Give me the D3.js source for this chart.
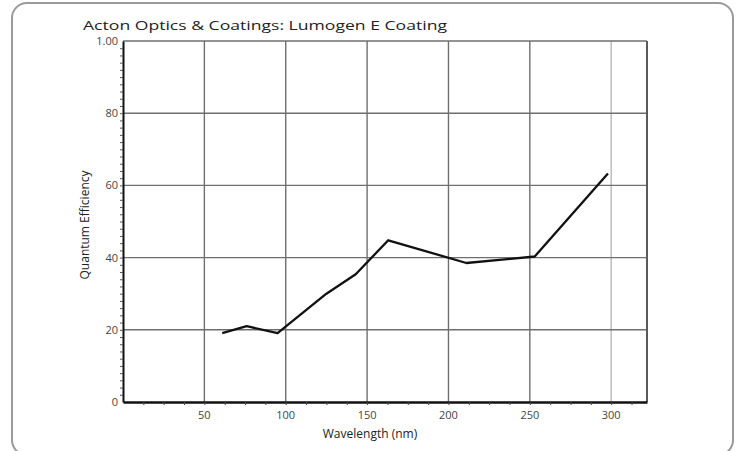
<!DOCTYPE html>
<html>
<head>
<meta charset="utf-8">
<script src="https://cdn.jsdelivr.net/npm/d3@7"></script>
<style>
  body { margin: 0; background: #fff; }
  svg { display: block; font-family: "Open Sans", "Noto Sans", sans-serif; }
</style>
</head>
<body>
<svg id="chart"></svg>
<script>
var width = 737,
    height = 451;

// wavelength (nm) and quantum efficiency
var wavelength = [61, 76, 95, 125, 143, 163, 211, 253, 298];
var efficiency = [19.1, 21.0, 19.1, 30.0, 35.4, 44.8, 38.5, 40.3, 63.3];

var xTicks = [50, 100, 150, 200, 250, 300];
var yTicks = [0, 20, 40, 60, 80, 100];
var yTickLabels = ['0', '20', '40', '60', '80', '1.00'];

var MARGIN = {
    LEFT: 123,
    RIGHT: 90,
    TOP: 41,
    BOTTOM: 49
};

var plotW = width - MARGIN.LEFT - MARGIN.RIGHT,
    plotH = height - MARGIN.TOP - MARGIN.BOTTOM;

var xScale = d3.scaleLinear()
    .domain([0, 322])
    .range([0, plotW]);

var yScale = d3.scaleLinear()
    .domain([0, 100])
    .range([plotH, 0]);

var svg = d3.select('#chart')
    .attr('width', width)
    .attr('height', height);

// rounded frame around the whole figure
svg.append('rect')
    .attr('x', 12)
    .attr('y', 3)
    .attr('width', 721)
    .attr('height', 452)
    .attr('rx', 15)
    .attr('fill', 'none')
    .attr('stroke', '#9a9a9a')
    .attr('stroke-width', 2);

svg.append('text')
    .attr('x', 83)
    .attr('y', 30)
    .attr('fill', '#222')
    .style('font-size', '13px')
    .attr('textLength', 364)
    .attr('lengthAdjust', 'spacingAndGlyphs')
    .text('Acton Optics & Coatings: Lumogen E Coating');

var inner = svg.append('g')
    .attr('transform', 'translate(' + MARGIN.LEFT + ',' + MARGIN.TOP + ')');

// grid
inner.append('g').selectAll('line.vgrid')
    .data(xTicks)
    .enter().append('line')
    .attr('x1', function (d) { return xScale(d); })
    .attr('x2', function (d) { return xScale(d); })
    .attr('y1', 0)
    .attr('y2', plotH)
    .attr('stroke', function (d) { return d === 300 ? '#b8b8b8' : '#6f6f6f'; })
    .attr('stroke-width', 1.4);

inner.append('g').selectAll('line.hgrid')
    .data(yTicks.filter(function (d) { return d > 0; }))
    .enter().append('line')
    .attr('x1', 0)
    .attr('x2', plotW)
    .attr('y1', function (d) { return yScale(d); })
    .attr('y2', function (d) { return yScale(d); })
    .attr('stroke', '#6f6f6f')
    .attr('stroke-width', 1.4);

// right border
inner.append('line')
    .attr('x1', plotW).attr('x2', plotW)
    .attr('y1', 0).attr('y2', plotH)
    .attr('stroke', '#5a5a5a')
    .attr('stroke-width', 2);

// minor ticks
var xMinor = d3.range(12.5, 322, 12.5);
var yMinor = d3.range(2, 100, 2);

var xAxis = d3.axisBottom(xScale)
    .tickValues(xMinor)
    .tickFormat('')
    .tickSize(3)
    .tickSizeOuter(0);

var yAxis = d3.axisLeft(yScale)
    .tickValues(yMinor)
    .tickFormat('')
    .tickSize(3)
    .tickSizeOuter(0);

var gx = inner.append('g')
    .attr('transform', 'translate(0,' + plotH + ')')
    .call(xAxis);
gx.select('.domain').attr('stroke', '#111').attr('stroke-width', 2.5);
gx.selectAll('.tick line').attr('stroke', '#444');

var gy = inner.append('g').call(yAxis);
gy.select('.domain').attr('stroke', '#111').attr('stroke-width', 2);
gy.selectAll('.tick line').attr('stroke', '#555');

// tick labels
inner.append('g').selectAll('text')
    .data(xTicks)
    .enter().append('text')
    .attr('x', function (d) { return xScale(d); })
    .attr('y', plotH + 17)
    .attr('text-anchor', 'middle')
    .attr('fill', '#444')
    .style('font-size', '11px')
    .text(function (d) { return d; });

inner.append('g').selectAll('text')
    .data(yTicks)
    .enter().append('text')
    .attr('x', -5)
    .attr('y', function (d) { return yScale(d) + 4; })
    .attr('text-anchor', 'end')
    .attr('fill', '#444')
    .style('font-size', '11px')
    .text(function (d, i) { return yTickLabels[i]; });

// axis titles
svg.append('text')
    .attr('x', 370)
    .attr('y', 438)
    .attr('text-anchor', 'middle')
    .attr('fill', '#222')
    .style('font-size', '12px')
    .text('Wavelength (nm)');

svg.append('text')
    .attr('transform', 'translate(89,225) rotate(-90)')
    .attr('text-anchor', 'middle')
    .attr('fill', '#222')
    .style('font-size', '12px')
    .text('Quantum Efficiency');

// data line
var line = d3.line()
    .x(function (d) { return xScale(d[0]); })
    .y(function (d) { return yScale(d[1]); });

inner.append('path')
    .datum(d3.zip(wavelength, efficiency))
    .attr('d', line)
    .attr('fill', 'none')
    .attr('stroke', '#111')
    .attr('stroke-width', 2.3)
    .attr('stroke-linejoin', 'round');
</script>
</body>
</html>
